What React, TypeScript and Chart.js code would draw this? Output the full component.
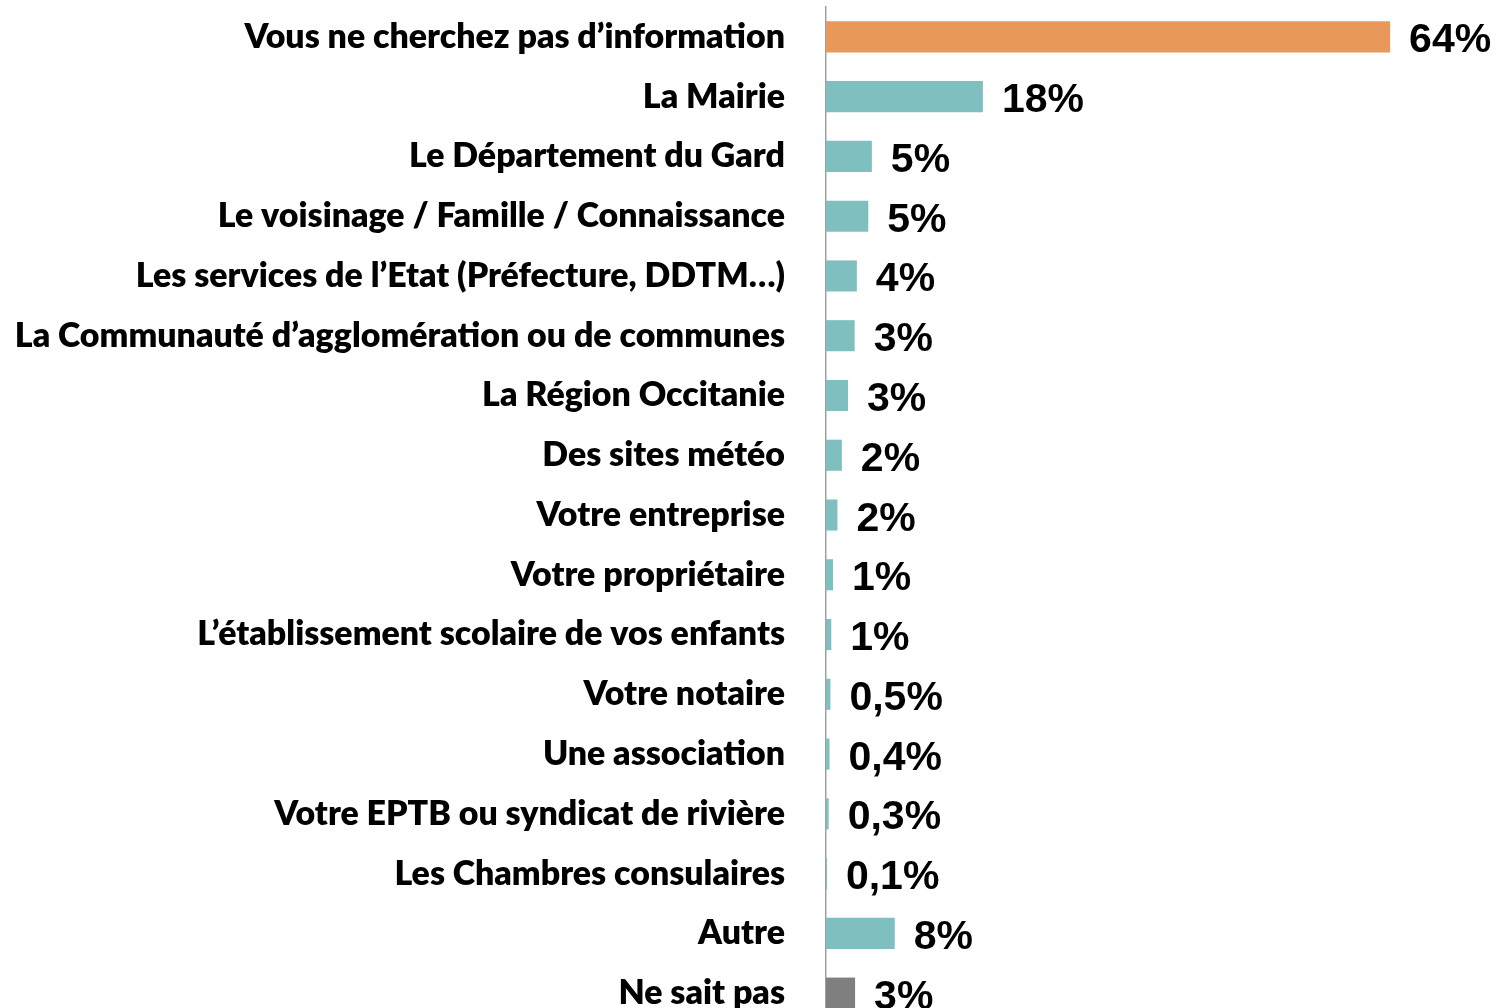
import React, { useEffect, useRef } from "react";
import { Chart, registerables } from "chart.js";

Chart.register(...registerables);

const categories = [
  "Vous ne cherchez pas d’information",
  "La Mairie",
  "Le Département du Gard",
  "Le voisinage / Famille / Connaissance",
  "Les services de l’Etat (Préfecture, DDTM…)",
  "La Communauté d’agglomération ou de communes",
  "La Région Occitanie",
  "Des sites météo",
  "Votre entreprise",
  "Votre propriétaire",
  "L’établissement scolaire de vos enfants",
  "Votre notaire",
  "Une association",
  "Votre EPTB ou syndicat de rivière",
  "Les Chambres consulaires",
  "Autre",
  "Ne sait pas",
];

const values = [64, 17.8, 5.2, 4.8, 3.5, 3.25, 2.5, 1.8, 1.3, 0.8, 0.6, 0.5, 0.4, 0.3, 0.1, 7.8, 3.3];

const valueLabels = [
  "64%", "18%", "5%", "5%", "4%", "3%", "3%", "2%", "2%", "1%", "1%",
  "0,5%", "0,4%", "0,3%", "0,1%", "8%", "3%",
];

const ORANGE = "#E8995A";
const TEAL = "#7FBFC0";
const GRAY = "#7F7F7F";

const CAT_FONT_FAMILY = "Lato, 'Open Sans', sans-serif";
const CAT_FONT_WEIGHT = "800";
const VAL_FONT = "bold 41px 'Liberation Sans', Arial, sans-serif";

function fitCategoryFontSize(): number {
  const c = document.createElement("canvas");
  const ctx = c.getContext("2d");
  if (!ctx) return 30;
  ctx.font = `${CAT_FONT_WEIGHT} 100px ${CAT_FONT_FAMILY}`;
  let maxW = 0;
  for (const s of categories) maxW = Math.max(maxW, ctx.measureText(s).width);
  return Math.round((770 / maxW) * 100 * 10) / 10;
}

export default function App() {
  const ref = useRef<HTMLCanvasElement | null>(null);

  useEffect(() => {
    if (!ref.current) return;
    const catSize = fitCategoryFontSize();
    const barColors = categories.map((_, i) =>
      i === 0 ? ORANGE : i === categories.length - 1 ? GRAY : TEAL
    );

    const valueLabelPlugin = {
      id: "valueLabels",
      afterDatasetsDraw(chart: any) {
        const ctx = chart.ctx;
        const meta = chart.getDatasetMeta(0);
        ctx.save();
        ctx.font = VAL_FONT;
        ctx.fillStyle = "#000";
        ctx.textAlign = "left";
        ctx.textBaseline = "alphabetic";
        meta.data.forEach((bar: any, i: number) => {
          ctx.fillText(valueLabels[i], bar.x + 19, bar.y + 15.5);
        });
        ctx.restore();
      },
    };

    const chart = new Chart(ref.current, {
      type: "bar",
      data: {
        labels: categories,
        datasets: [
          {
            data: values,
            backgroundColor: barColors,
            borderWidth: 0,
            barPercentage: 0.52,
            categoryPercentage: 1,
          },
        ],
      },
      options: {
        indexAxis: "y",
        responsive: false,
        animation: false,
        devicePixelRatio: 1,
        layout: { autoPadding: false, padding: { top: 7, bottom: 7, left: 0, right: 58 } },
        plugins: {
          legend: { display: false },
          tooltip: { enabled: false },
          title: { display: false },
        },
        scales: {
          x: {
            display: false,
            min: 0,
            max: 70,
          },
          y: {
            afterFit(scale: any) {
              scale.width = 826;
              scale.paddingTop = 0;
              scale.paddingBottom = 0;
            },
            grid: { display: false, drawTicks: false },
            border: { display: true, color: "#A0A0A0", width: 1.5 },
            ticks: {
              color: "#000",
              padding: 41,
              autoSkip: false,
              font: { family: CAT_FONT_FAMILY, size: catSize, weight: CAT_FONT_WEIGHT },
            },
          },
        },
      },
      plugins: [valueLabelPlugin],
    } as any);

    return () => chart.destroy();
  }, []);

  return (
    <div
      style={{
        position: "fixed",
        left: 0,
        top: 0,
        width: 1501,
        height: 1008,
        overflow: "hidden",
        background: "#fff",
      }}
    >
      <canvas ref={ref} width={1501} height={1030} style={{ display: "block" }} />
    </div>
  );
}
